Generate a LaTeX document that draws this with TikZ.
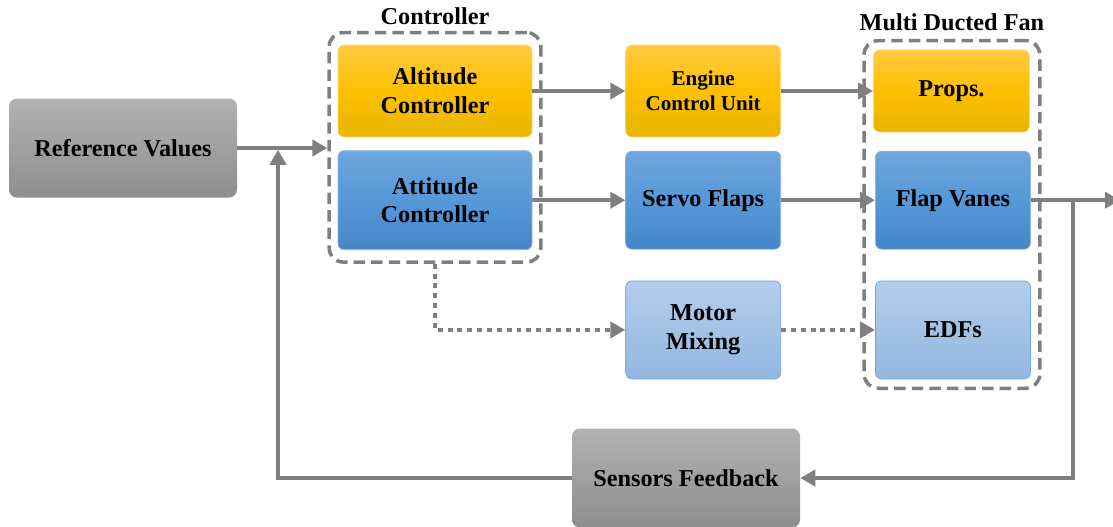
\documentclass[tikz,border=0pt]{standalone}
\usepackage{fontspec}
\setmainfont{Liberation Serif}
\usepackage{tikz}
\usetikzlibrary{arrows.meta, positioning, fit}
\definecolor{ambertop}{HTML}{FFCA42}
\definecolor{ambermid}{HTML}{FFC000}
\definecolor{amberbot}{HTML}{E6B400}
\definecolor{bluetop}{HTML}{6FA6DD}
\definecolor{bluemid}{HTML}{5698D8}
\definecolor{bluebot}{HTML}{4586C9}
\definecolor{palebluetop}{HTML}{B4CDEB}
\definecolor{palebluebot}{HTML}{93B7E2}
\definecolor{greytop}{HTML}{B2B2B2}
\definecolor{greybot}{HTML}{8E8E8E}
\definecolor{wire}{HTML}{7F7F7F}

\begin{document}
\begin{tikzpicture}[node distance=0.26cm and 1.86cm,
  every node/.style={font=\bfseries\fontsize{13.8}{16.5}\selectfont, align=center},
  amber/.style={rectangle, rounded corners=3.5pt,
    minimum width=3.1cm, minimum height=1.84cm,
    draw=ambertop!70, thin, top color=ambertop, bottom color=amberbot, middle color=ambermid},
  blue/.style={rectangle, rounded corners=3.5pt,
    minimum width=3.1cm, minimum height=1.96cm,
    draw=bluetop!80, thin, top color=bluetop, bottom color=bluebot, middle color=bluemid},
  paleblue/.style={rectangle, rounded corners=3.5pt,
    minimum width=3.1cm, minimum height=1.96cm,
    draw=bluetop, thin, top color=palebluetop, bottom color=palebluebot},
  grey/.style={rectangle, rounded corners=4.5pt,
    minimum width=4.56cm, minimum height=1.98cm,
    draw=none, top color=greytop, bottom color=greybot},
  group/.style={draw=wire, line width=2pt, rounded corners=8pt,
    dash pattern=on 6.5pt off 3.5pt},
  arrow/.style={draw=wire, line width=2.4pt,
    -{Triangle[length=0.3cm,width=0.32cm]}},
  dotarrow/.style={arrow, dash pattern=on 2.8pt off 2.8pt}]

\useasboundingbox (0,0) rectangle (22.26,-10.54);

% input and feedback blocks
\node (ref) [grey] at (2.46,-2.96) {Reference Values};
\node (sensors) [grey] at (13.72,-9.56) {Sensors Feedback};

% controller stack
\node (alt) [amber, minimum width=3.88cm] at (8.70,-1.82) {Altitude\\Controller};
\node (att) [blue, minimum width=3.88cm, minimum height=1.98cm, below=of alt]
  {Attitude\\Controller};

% actuator stage
\node (ecu) [amber, right=of alt, font=\bfseries\fontsize{12}{14.5}\selectfont]
  {Engine\\Control Unit};
\node (servo) [blue, right=of att] {Servo Flaps};
\node (mix) [paleblue, below=0.62cm of servo] {Motor\\Mixing};

% plant
\node (props) [amber, minimum width=3.12cm, minimum height=1.64cm, right=1.84cm of ecu] {Props.};
\node (vanes) [blue, right=1.88cm of servo] {Flap Vanes};
\node (edf) [paleblue, right=1.88cm of mix] {EDFs};

% dashed groups
\node (ctrlbox) [group, inner xsep=0.17cm, inner ysep=0.24cm, fit=(alt) (att)] {};
\node (fanbox) [group, inner sep=0.18cm, fit=(props) (vanes) (edf)] {};
\node (ctrllbl) [above=0pt of ctrlbox] {Controller};
\node (fanlbl) [above=0.03cm of fanbox] {Multi Ducted Fan};

\coordinate (out) at (22.4,0 |- vanes.east);
\coordinate (tap) at (21.46,0 |- vanes.east);
\coordinate (fb) at (5.56,0 |- ref.east);

\draw [arrow] (ref.east) -- (ref.east -| ctrlbox.west);
\draw [arrow] (alt) -- (ecu);
\draw [arrow] (ecu) -- (props);
\draw [arrow] (att) -- (servo);
\draw [arrow] (servo) -- (vanes);
\draw [arrow] (vanes) -- (out);
\draw [arrow] (tap) |- (sensors);
\draw [arrow, shorten >=1pt] (sensors) -| (fb);
\draw [dotarrow] (ctrlbox.south) |- (mix);
\draw [dotarrow] (mix) -- (edf);

\end{tikzpicture}
\end{document}
